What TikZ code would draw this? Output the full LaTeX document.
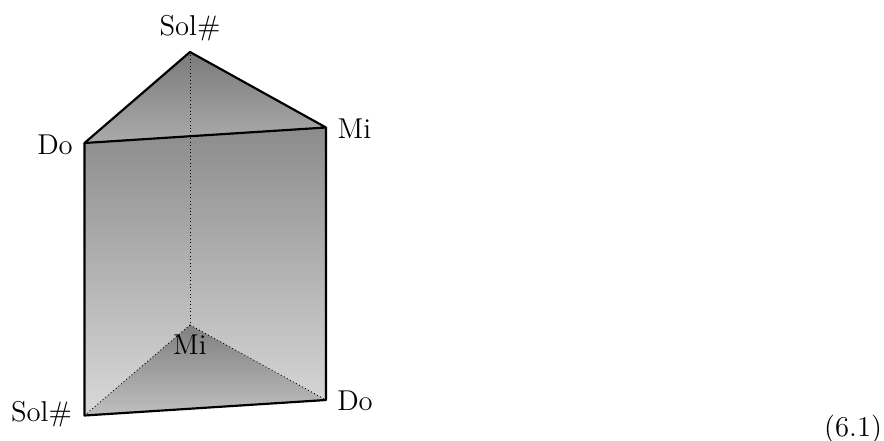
\documentclass[tikz,border=0pt]{standalone}
\begin{document}
\begin{tikzpicture}[x=0.3906pt,y=-0.3906pt,
  edge/.style={draw=black,line width=0.85pt,line join=round},
  hidden/.style={draw=black,line width=0.35pt,densely dotted},
  lab/.style={inner sep=0pt,text=black,font=\fontsize{11.2}{13}\selectfont}]
\useasboundingbox (0,0) rectangle (884,441);
\coordinate (T) at (190,52);
\coordinate (A) at (84.5,143);
\coordinate (B) at (326,127.5);
\coordinate (A2) at (84.5,415.5);
\coordinate (B2) at (326,400);
\coordinate (T2) at (190,325);
% faces
\shade[top color=black!45,bottom color=black!15] (A) -- (B) -- (B2) -- (A2) -- cycle;
\shade[top color=black!52,bottom color=black!33] (T) -- (A) -- (B) -- cycle;
\shade[top color=black!50,bottom color=black!25] (T2) -- (A2) -- (B2) -- cycle;
% hidden edges
\draw[hidden] (T) -- (T2);
\draw[hidden] (T2) -- (A2);
\draw[hidden] (T2) -- (B2);
% visible edges
\draw[edge] (T) -- (A) -- (B) -- cycle;
\draw[edge] (A) -- (A2) -- (B2) -- (B);
% labels
\node[lab] (l1) at (190,28.5) {Sol$\#$};
\node[lab] (l2) at (55,145) {Do};
\node[lab] (l3) at (354.5,129) {Mi};
\node[lab] (l4) at (41.5,414.5) {Sol$\#$};
\node[lab] (l5) at (190,345) {Mi};
\node[lab] (l6) at (355,401) {Do};
\node[lab,anchor=east] (l7) at (882.5,429) {(6.1)};
\end{tikzpicture}
\end{document}
